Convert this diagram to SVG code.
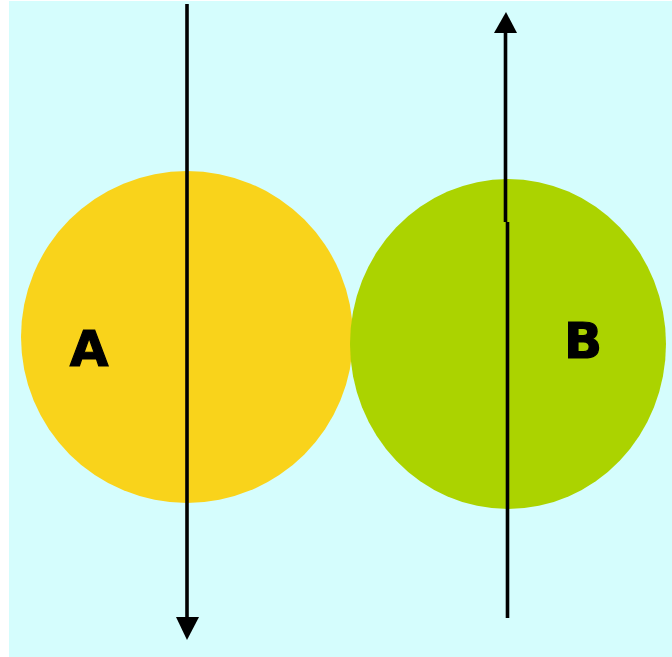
<svg xmlns="http://www.w3.org/2000/svg" width="672" height="657" viewBox="0 0 672 657">
<defs>
<style>
.lbl{font-family:"DejaVu Sans","Liberation Sans",sans-serif;font-weight:bold;font-size:50px;fill:#000;stroke:#000;stroke-width:1.2}
.ln{stroke:#000;stroke-width:3.6;fill:none}
</style>
</defs>
<rect width="672" height="657" fill="#fff"/>
<rect x="9" y="1" width="663" height="656" fill="#d5fdfd"/>
<g id="nodeA">
<ellipse cx="187" cy="337" rx="166" ry="166" fill="#f9d31b"/>
<text class="lbl" x="89" y="366" text-anchor="middle">A</text>
</g>
<g id="nodeB">
<ellipse cx="508" cy="344" rx="158" ry="165" fill="#abd300"/>
<text class="lbl" x="583" y="358" text-anchor="middle">B</text>
</g>
<g id="connectors">
<line class="ln" x1="187" y1="4" x2="187" y2="620"/>
<polygon points="176,617 199,617 187,640" fill="#000"/>
<line class="ln" x1="505.5" y1="30" x2="505.5" y2="222"/>
<line class="ln" x1="507.5" y1="222" x2="507.5" y2="618"/>
<polygon points="494,33 517,33 506,12" fill="#000"/>
</g>
</svg>
